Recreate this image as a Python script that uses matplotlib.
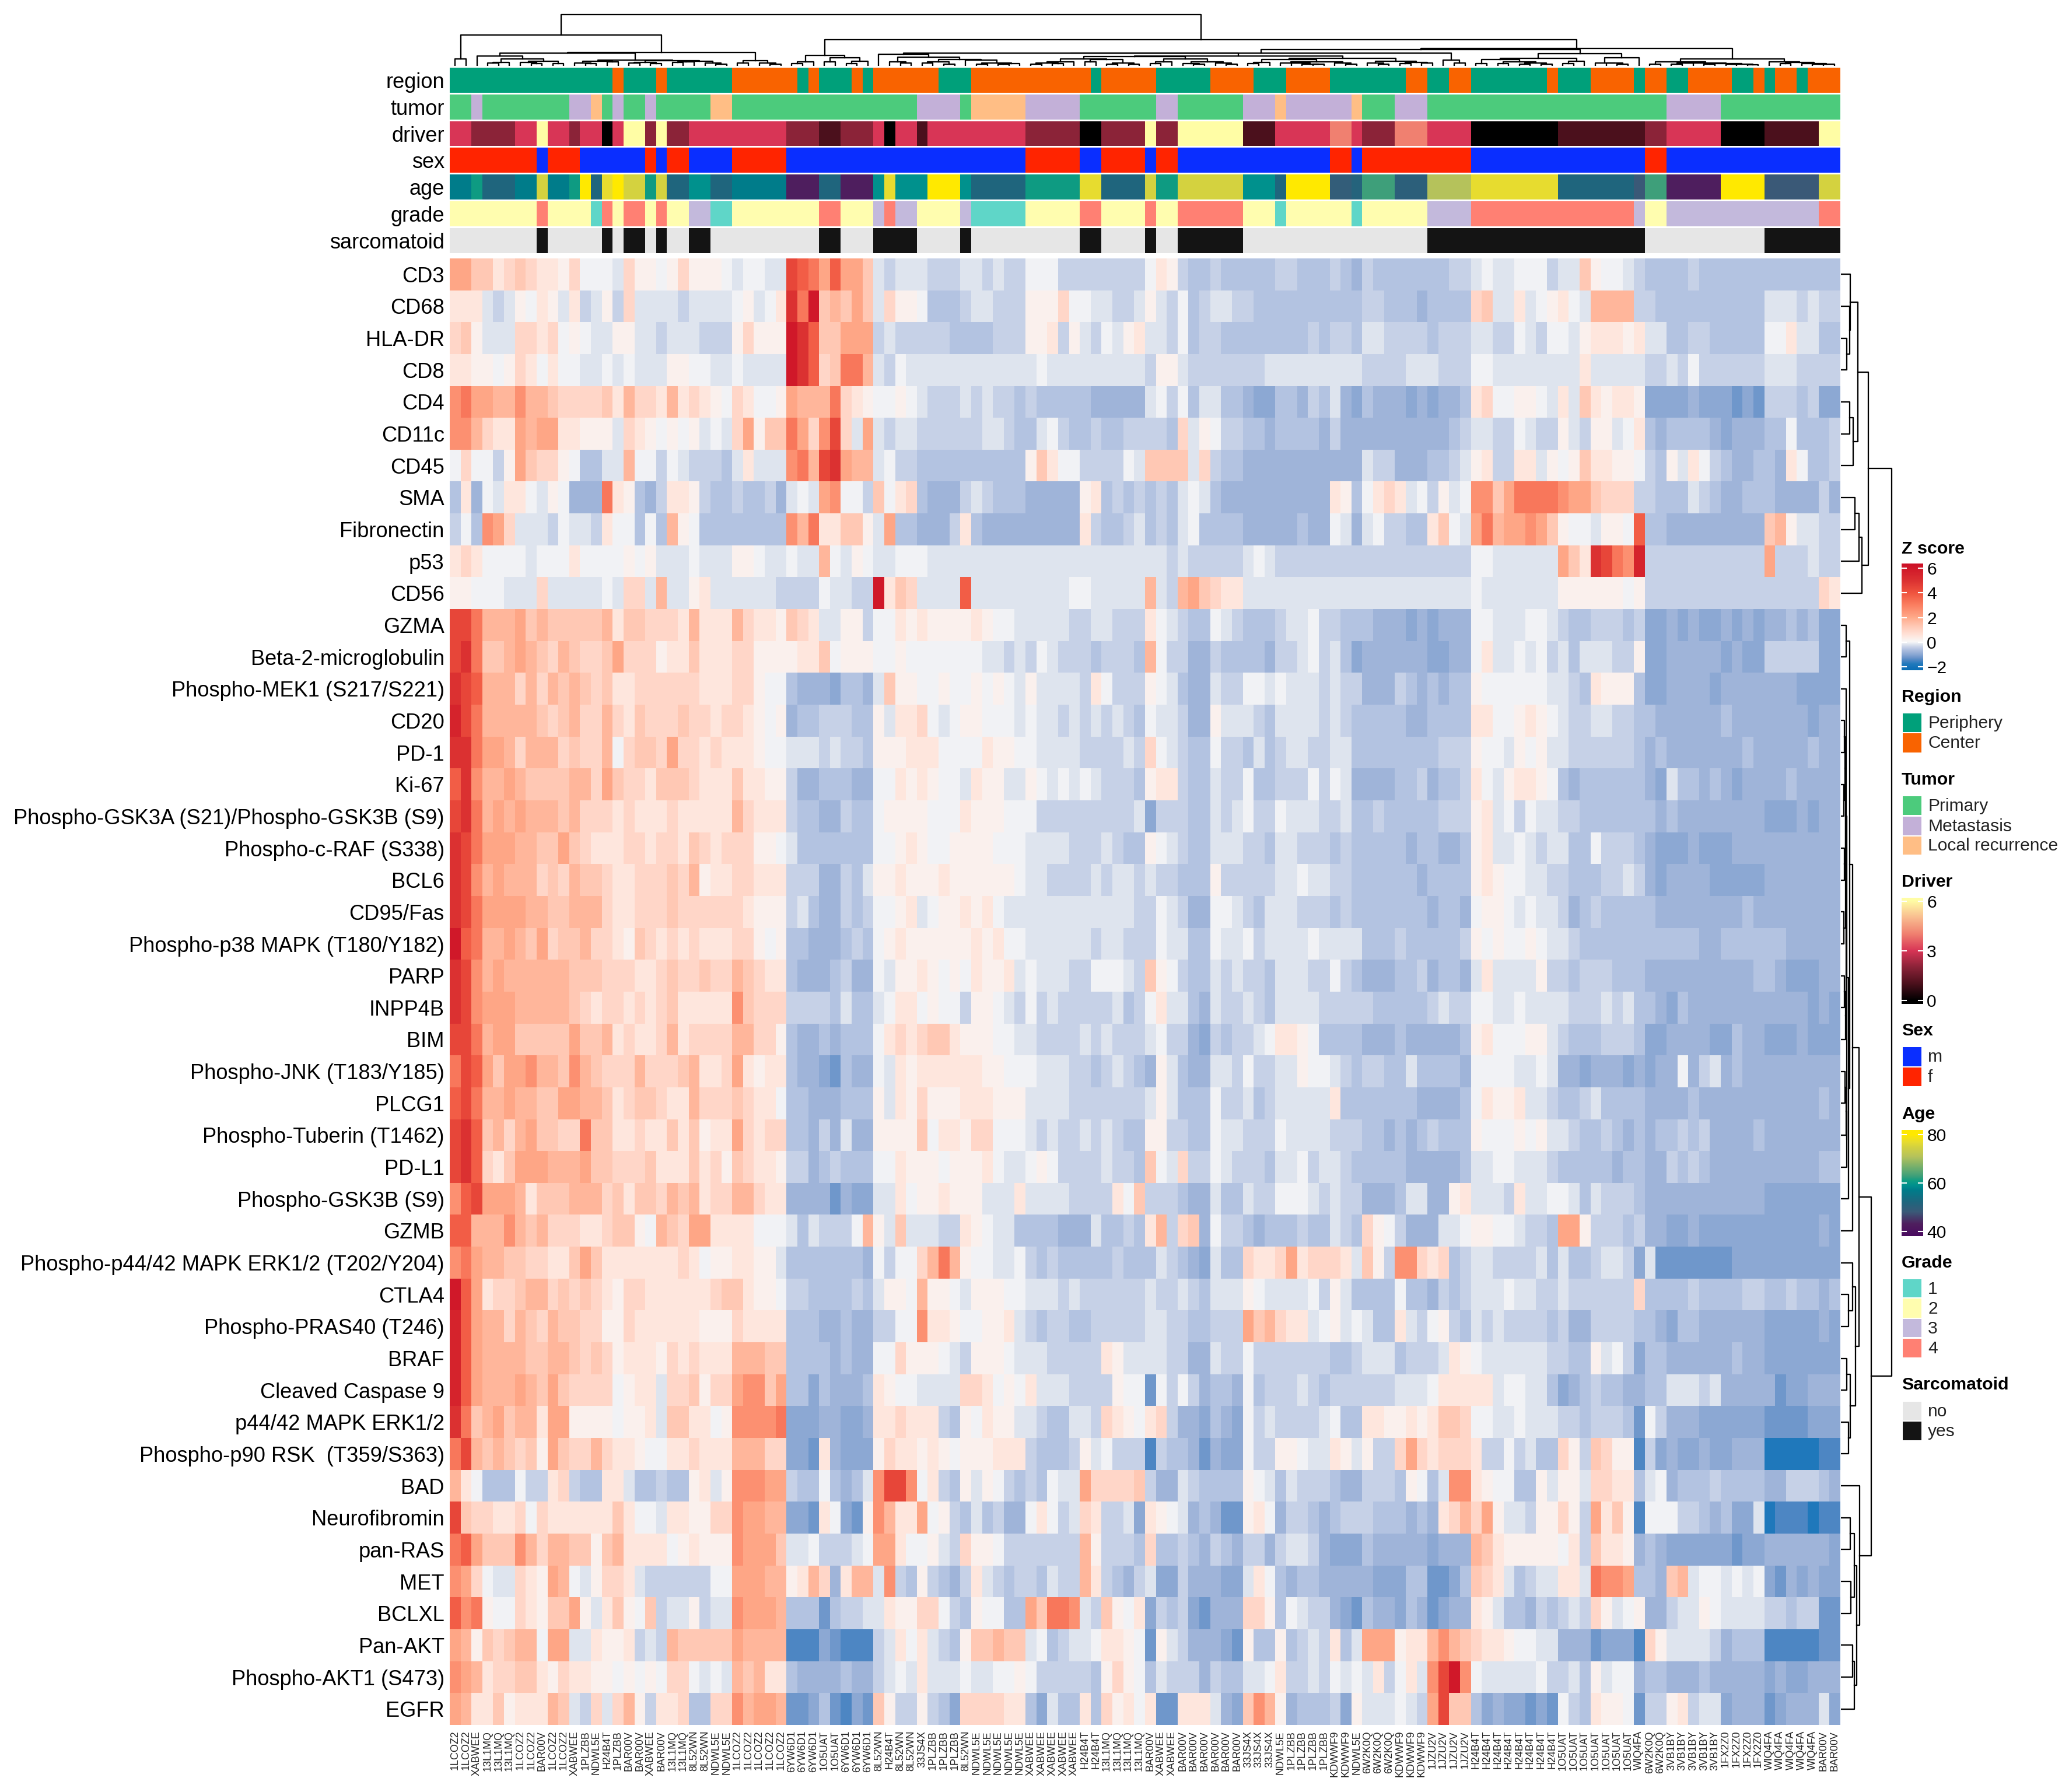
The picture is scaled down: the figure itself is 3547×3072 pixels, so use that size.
import numpy as np
import matplotlib
matplotlib.use("Agg")
import matplotlib.pyplot as plt
from matplotlib.collections import LineCollection
from matplotlib.colors import ListedColormap, LinearSegmentedColormap, Normalize
from matplotlib.patches import Rectangle

plt.rcParams['font.family'] = ['Liberation Sans', 'DejaVu Sans']

W, H = 3547, 3072

row_labels = ["CD3", "CD68", "HLA-DR", "CD8", "CD4", "CD11c", "CD45", "SMA", "Fibronectin", "p53", "CD56",
              "GZMA", "Beta-2-microglobulin", "Phospho-MEK1 (S217/S221)", "CD20", "PD-1", "Ki-67",
              "Phospho-GSK3A (S21)/Phospho-GSK3B (S9)", "Phospho-c-RAF (S338)", "BCL6", "CD95/Fas",
              "Phospho-p38 MAPK (T180/Y182)", "PARP", "INPP4B", "BIM", "Phospho-JNK (T183/Y185)", "PLCG1",
              "Phospho-Tuberin (T1462)", "PD-L1", "Phospho-GSK3B (S9)", "GZMB",
              "Phospho-p44/42 MAPK ERK1/2 (T202/Y204)", "CTLA4", "Phospho-PRAS40 (T246)", "BRAF",
              "Cleaved Caspase 9", "p44/42 MAPK ERK1/2", "Phospho-p90 RSK  (T359/S363)", "BAD", "Neurofibromin",
              "pan-RAS", "MET", "BCLXL", "Pan-AKT", "Phospho-AKT1 (S473)", "EGFR"]

sample_names = ["1LCOZ2"] * 2 + ["XABWEE"] + ["13L1MQ"] * 3 + ["1LCOZ2"] * 2 + ["BAR00V"] + ["1LCOZ2"] * 2 + \
    ["XABWEE", "1PLZBB", "NDWL5E", "H24B4T", "1PLZBB", "BAR00V", "BAR00V", "XABWEE", "BAR00V"] + ["13L1MQ"] * 2 + \
    ["8L52WN"] * 2 + ["NDWL5E"] * 2 + ["1LCOZ2"] * 5 + ["6YW6D1"] * 3 + ["1O5UAT"] * 2 + ["6YW6D1"] * 3 + \
    ["8L52WN", "H24B4T", "8L52WN", "8L52WN", "33JS4X"] + ["1PLZBB"] * 3 + ["8L52WN"] + ["NDWL5E"] * 5 + \
    ["XABWEE"] * 5 + ["H24B4T"] * 2 + ["13L1MQ"] * 4 + ["BAR00V"] + ["XABWEE"] * 2 + ["BAR00V"] * 6 + \
    ["33JS4X"] * 3 + ["NDWL5E"] + ["1PLZBB"] * 4 + ["KDWWF9"] * 2 + ["NDWL5E"] + ["6W2K0Q"] * 3 + ["KDWWF9"] * 3 + \
    ["1JZU2V"] * 4 + ["H24B4T"] * 8 + ["1O5UAT"] * 7 + ["WIQ4FA"] + ["6W2K0Q"] * 2 + ["3VB1BY"] * 5 + \
    ["1FX2Z0"] * 4 + ["WIQ4FA"] * 5 + ["BAR00V"] * 2

# annotation tracks, value + run length along the columns
region_values = [0, 1, 0, 1, 0, 1, 0, 1, 0, 1, 0, 1, 0, 1, 0, 1, 0, 1, 0, 1, 0, 1, 0, 1, 0, 1, 0, 1, 0, 1, 0, 1, 0, 1, 0, 1, 0, 1]
region_runs = [15, 1, 3, 1, 6, 6, 1, 1, 3, 1, 1, 6, 3, 11, 1, 5, 5, 4, 3, 4, 7, 2, 2, 2, 7, 1, 3, 4, 1, 2, 2, 4, 2, 1, 1, 2, 1, 3]

tumor_values = [0, 1, 0, 1, 2, 0, 1, 0, 1, 0, 2, 0, 1, 0, 2, 1, 0, 1, 0, 1, 2, 1, 2, 0, 1, 0, 1, 0]
tumor_runs = [2, 1, 8, 2, 1, 1, 1, 2, 1, 5, 2, 17, 4, 1, 5, 5, 7, 2, 6, 3, 1, 6, 1, 3, 3, 22, 5, 11]

driver_values = [3, 2, 3, 6, 3, 2, 3, 0, 3, 6, 2, 6, 2, 3, 2, 1, 2, 3, 0, 3, 1, 3, 2, 0, 2, 6, 2, 6, 1, 3, 4, 3, 2, 4, 3, 0, 1, 2, 3, 0, 1, 6]
driver_runs = [2, 4, 2, 1, 2, 1, 2, 1, 1, 2, 1, 1, 2, 9, 3, 2, 3, 1, 1, 2, 1, 9, 5, 2, 4, 1, 2, 6, 3, 5, 2, 1, 3, 3, 4, 8, 8, 2, 5, 4, 5, 2]

sex_values = [1, 0, 1, 0, 1, 0, 1, 0, 1, 0, 1, 0, 1, 0, 1, 0, 1, 0, 1, 0, 1, 0]
sex_runs = [8, 1, 3, 6, 1, 1, 2, 4, 5, 22, 5, 2, 4, 1, 2, 14, 2, 1, 10, 16, 2, 16]

age_values = [57, 61, 52, 57, 75, 57, 61, 80, 52, 77, 80, 75, 61, 75, 52, 59, 52, 57, 43, 52, 43, 59, 77, 59, 80, 59, 52,
              61, 77, 52, 75, 61, 75, 59, 52, 80, 49, 51, 63, 50, 71, 77, 52, 48, 63, 43, 80, 48, 75]
age_runs = [2, 1, 3, 2, 1, 2, 1, 1, 1, 1, 1, 2, 1, 1, 2, 2, 2, 5, 3, 2, 3, 1, 1, 3, 3, 1, 5,
            5, 2, 4, 1, 2, 6, 3, 1, 4, 2, 1, 3, 3, 4, 8, 7, 1, 2, 5, 4, 5, 2]

grade_values = [2, 4, 2, 1, 4, 2, 4, 2, 4, 2, 3, 1, 2, 4, 2, 3, 4, 3, 2, 3, 1, 2, 4, 2, 4, 2, 4, 2, 1, 2, 1, 2, 3, 4, 3, 2, 3, 4]
grade_runs = [8, 1, 4, 1, 1, 1, 2, 1, 1, 2, 2, 2, 8, 2, 3, 1, 1, 2, 4, 1, 5, 5, 2, 4, 1, 2, 6, 3, 1, 6, 1, 6, 4, 15, 1, 2, 14, 2]

sarcomatoid_values = [0, 1, 0, 1, 0, 1, 0, 1, 0, 1, 0, 1, 0, 1, 0, 1, 0, 1, 0, 1, 0, 1, 0, 1, 0, 1]
sarcomatoid_runs = [8, 1, 5, 1, 1, 2, 1, 1, 2, 2, 10, 2, 3, 4, 4, 1, 10, 2, 4, 1, 2, 6, 17, 20, 11, 7]

# z score per cell, one letter per cell, see zscore_levels
zscore_levels = dict(zip("abcdefghijklmnopqrstuv",
                         [-1.8, -1.5, -1.25, -1.0, -0.8, -0.6, -0.4, -0.2, -0.05, 0.2, 0.5, 0.9,
                          1.3, 1.7, 2.1, 2.6, 3.2, 3.8, 4.4, 5.0, 5.6, 6.0]))

zscore_rows = [
    "oommk lmlkk jliii hljji jljjj ihiih h srqoroom hghhh ggghh ghggi iiggg ggggg ik jgffg fffff ggfff gfegf fffff fgg hihhi iighh mjiih g ffffg fffff fffff fff",
    "kkkhg hjikj hkghj glhhh hghhh hijhi k tqvmnmom hljji fffgh hgggj jjlii hhggh jh gifgh hggff fffff fffgg fffef fff lmhhk hijki hnnnn g gffff fffff fhhhg hgg",
    "lmjhh hllkl ijihh jjhhg hhhgg gjljj j vtrmmooo ghggg ggfff fgggj jkgjh gihjk hh gifgg fffff fffgf ggfhh ggggf ggg hhggi hgiih jkkkj k hhffg gffff fiikh hff",
    "kkjji jlkik iihhi hihhh jjiih hihhh h vtrlmqqn hgihh hhhhh hhhhh ihhhh hhhhh gj jhggg ggggh hhhhh hhhgg gghhh ggg iihhh hhhhh khhhh h gghgi ggggg ghhhg ggg",
    "pqoon npnnm llllm knllk nklkj ilkii j onnnqlkj iijih ggghg hggfg fffff eeeee hi gifhh ffedd ffegf hedfe eeded eef kliij jihkh mkjkk j dddde dddcd cgggf gdd",
    "ppnlk konoo kkjjj hlkji jijhi hlojm m qolpslho hghhg ggggg hhgff higff gffgg gg flhji ggffe ffffe geeee eeeee efg hhggi hggjh gjjhi k feffff edeeeffifffg",
    "iliig jomll jiffh hniig ihggg fhkhh h pqnstonn higgf fffff ffff jmkii ggggi hmm mmhlg ffeee eeeee eeehg geeef fgh jkggk khjij mkkjj i gfjhk igfee ffeki ffg",
    "fkeih kkihj ieeeq kjfeg kkjgf fgffg e hihopiig miklf eeegh gfffe eeeej kfgfg fg fhihf eeeee eeeee kjfik lkhig jhi ppmoq qqqpo omlll g gfffh gfeef ffeee ege",
    "gifpo lhhhg ihhgk iifif njiff fffff f pnqkkmmj hoffe eegkf eeeee eeeek gffgh fg fhiff ffeee eefee ihehi ggffk mih oqnoo pomji ihjji r ffeee eeeee emnjh hgg",
    "klkii iihii ikiii ijijh hhihh hjjih h ihhnihji hhiii hhhhh hhhhh hhhhh hhhhh hh ghggg gghih ggggg ggggg ggggg ggg iihhh hhhom ktsqp u ggggg ggggg gogg ghgg",
    "jjiii hhhlh hhhhi hllhn hhjkh hhhhh g gggihhgg vkmlh hhhrh hhhhh hhhii hhhhh nh gnoml kkhhh hhhhh hhhhh hhhhh hhh ihhhh hhhjj jjjji j ggggg ggggg ggggg glk",
    "ssqnn nomnm mmmmn kmmll lknkk knlkk j mlkhhjjg iikjk jjjjk jiihh hhhgg hhggg ki hgffi hgfff ghhig gfffe eeded eee iihhh iihgf fgggf g ddede ddede deefe fdd",
    "stqmm nonml nmllm ollljkkmkk klljj j jkkmijjj iijii iiiii hhghg ihggg fgggf ni ggeeg ffffe gghig hfdee eeeed dee ikhhi highf hhhgg j ddeee eeded dgggg gdd",
    "tsrnn nlnln mnmlm kklll lllkk kllji i feeedffe hmjji ijiij ijihj hhhhg kiggg ji hfeeh ggiih ihhhg hggee egfef eff jiiii iihhg fkjjj f ddeee edeee eeeed ddd",
    "usqnn nnnml mnlln lkmll lmllk llkji j effgggff jhkkl ihijj iiihi hhghg hghgf ih hgeej hhhgf hhhhg hgfff ffeef fff kkiij kjihg ghhgg f feeee eefee eeeee dee",
    "ttqoo nlnnn lmlln ilmml ollkl kkkji i hhhghggf jjjkk kiiii kjjii hhhhg ggghg li hgffi ggfhf ghhgg hhfff fffff ggg jiihj ijhhg ggggg f efeee eeeef eeeee fee",
    "rtpnn onmmm mnnlo mllkm mmlkk kmkkj j geefffee iikjk jiihk jjhhj ihihi hgggf jk kgffh ggiff gggig iheee effge ffg kihjk kjife fffff f edhff efede eeefe eee",
    "stqno nonnn mnlll klkkk lkkkk knlkk k gffeegff ijjjj iiikj jjiii ggggg ggggh dg ggffh ghigg ihhhg ghffg fffff ggg jkhig ihhgg fffff f fefee eeeee edddedee",
    "tsqoo onnmm omlkk kllkl lkmlk llljj i hfffffff iijkj iijjj jiiih hhhgg ghgff ji hgffh hhggf hhggg fgfff ffeff eef jkhhi hghhf figgg f edddeddd eeeee eeeee",
    "tspno nnnlm lnmml kklll mlnjk kllkk k gggeegfh jjkjj jkjjj jjjih hgggg hghhg hg gfffj ggggg hhihh ggfff fffef fff jkjii hhggf ffggh g edeee edddd deeee eee",
    "tsqoo oonnm mnnnl kklll mllll llkjj j ghfeegfg iijkh ijjkj kihhh hhhhh hhhhg gi hgeei ihgfh hhggg fgfff ffffe ffe ijjih ihhge fgfff f feeee eeeef eeeee eee",
    "vrqnn onmol mmnll kjmlk lklkk kllji j ffeeefgf ijkjj jjjjk jkiih hhhhh ghhgg gi hhffi hhigh hhhih hhhff fgfff ffg jijii jihhg fffff f fffff eefff fffee eee",
    "tspno nnnnn nmmml llkkl mllml lnmlk k feeefgee ihjjk jijik jjkhi hhhgg iiihg mj igffh ghggf hhhgg igfee effge ffe hkhhh hjggf gggff f eeeee eeeee ffedd dee",
    "tspoo onnnn nmlkl lklkl mkkkk kpmll l ggggfhff hikki jiigj jihgi ghggg gghfg ik hhfeh gghgf hhhhg ggggf ffffg hgg iihhi hhhhg gghgh f fedfe eeeee eeeee ded",
    "ssqno ommmm mommn klkkl nklll lnnll j feefefff iklkl mmkjj jiihh ggggh ghggg hi ggedg fgghi kkjif fffee efeee eef jkiii jjhgf ffggg f ddeee eddfe edddeddd",
    "qsrom oopnn mpnml llnll lmnkk lokjk k feedcfee ihkjk kkkkk jjiii hhhgg fghgf ej hfeeh hgigg hhjii hgfgg ffhff ffe iiiih hihee deeed e deeie ghefe eeeee eee",
    "rsqnn onnmm oonnm klmml kknll lmlkk i ffeeefff jhkjl jjjkk kjjjh hhhgg ggggg hj hfffi gghfg hhhhh kffff fffee eef ikjjk hhgff ghfff f eeeef eeeee eeeee efe",
    "strmn lnomm llqmm kklkk mkmjk kolkl l ffegehee jjjjm ikkjl liiih ghggh ghgff jj ggffi hhggg ihhhh gggff efefg fff jiiij ijhhg ffgfe f effgf geeee feeee eee",
    "strlk mooon nnomm lllmk kkmkl jmlkk j ggefgfff iikjj jijjj kihhi jiggg ghggf mi hlggi hgggf hhigh hgfff ffeee eef hhiih hhgff fffef f eegfg feeee eeeee eff",
    "prsoo onkmm mnnnl mkmml nmnkl lnnlk k eeeecedd hhkij jkjjj hhhkh hhhgg ggkim gg gfeeh ffhgg iiihg hggee efhhe ejk hhhgk hhiih fhggg f eeeee eeeee edddd ddd",
    "rrnnn pnmnl llkkl mmjin mlook kkkii i hfhgggin jhmhh hggkj ihhff ffeee hffgf kn glmei ggfef ffgff hgflj igeee hhi jjiih ggfoo jgggf g eedde ddddd ddddd ded",
    "pqonn mmllk kmomk kkkkk klkij jkkjj h fffffffe igiil nqnji ihhig fgfff ffgff fh gfedh fflkk lokll lkhmj gpplk lfg hhggg ghfhf fghhg d hcccc cccdd ddddd ddd",
    "vrokl lmnnl mlmlk jllkk kkkkl mmkjj i ggffffgf hjjin jjihj jjiih hhghg ggggg hg ghgfh hhjih hhhig jhfff fiffe gfg hhhih hgghg ggggg l ffffg ffffg gffgf fef",
    "uronn lnmln mmllj jlkkk kkkjj jlkkk k fffeefee ggiip kkjii jjkhg fggff ggggg hh ggffg ggomn lkkhi jhihf fkhgi jgf hghgg ggfge egggg f fedff eeeee edddd ded",
    "uronn nnmmn nmlml jkkkj lklkk knnnm m ffffefee iiljj jihgj jjihh hgggg gkjhh hh ggeeh ggigg ggggg ffghh hfggg hkj ihhhh hhggf fjhig d ffeee eeefe edddd ddd",
    "uronn nonmo mllll ijkkh llmjl loppm o ffdfeeef kjiih hhhll kijik hhhgg ggjii ci gigef feifg gghgf ggggg ghhhi kkk kkhii hhfde fgffe e ffhhh gheee eecdd eee",
    "tqmno mnnko ojjjj ijjkh mmkki jpppp q dddeedde kklkk kgfji kjjhh gffhh glkji kl geedf edigh ggggh iffkk jjkjk mml iihhi hhhgg fgggf c igeee ddddd dcccc ddd",
    "qsnmn mlmjo mllnl kkjii kklkk knnnl l ddckeddd jlkkj kjijj jkkkg fffgj higgg bg ffece ddigg jjihh kjhjg glolk lll kggig hfflj gmljj b gdedd eddee eaaaa abb",
    "nkiff figgk lgffk khffg ffjkh jpppo o gffifefh psspi kgfjh jigfg fihho llllm ge ehgff ffjih fhggg feegg gfjif hpp kjiif fjhjj hllkk f hiefff gffff eeggg fe",
    "smllk klilk kkkkk mkiih kkjjl lpoon n ddckidcj pnkko ijgfh fgeei kighl kgghd kj ihefe ccjki eggfe fgggf ffefe kln lojhh gjjlj gokmj b iiigg fefdd habbb abb",
    "qromm mpnln nmmjm nkkkk ijkjj jpooo m hhiggghi ookii jhglj jiggg ggggn jgggf lf fgfeg fegge ghhge dddfe eeeed eee nmkjj jjjik gmkkj e feddd dddcd deeee eed",
    "polih hlkjo nihjl lkhgg ggggi iooon n jknleknn hpgfj gfegk hgfgg fhggn kgfeg hd dgeee ddhki feffe eeeed ddffc cdf mlkhf ghhkk hqppo f femnh iihih idced edd",
    "rpqji ilkjm mojhk mjimg hhjgh hpooo n fffcfggh hkjjl ligfj iiffo mqqph gmjik dg fgdce eellj fihgg edcfe edfec dee kjhff egfgh gljhi j eeghh jihhh hggfg gcc",
    "onjml mnnio ohhkj jkghg nmmmm monnn n bbbdcbbb ghkik hgfjm mnmmh ifghh ikkji cj hgeee dcjff jfghg kfhoo ojkkn pnm lkkji ihhee ecddd b ljhhh hgeff fbbbb bcc",
    "ponkl lmmkj lkkjj ijiji llihi hnmnk k feeeefee ghihk hhhih hiiji ggggg fjlji fh gggeg ffhhi kgghg ihihk gikhp svp ihhhh higgh fjhii e ffeee feeee ededd eee",
    "onkkm jkkkn mhglh lnjgk klffl lpnoo n ccdfcbdc mjggj gfdll llkkf dhffk fljki kc ckkkh edmpn jefff gdjhh hihgo smm fdedd cdcig fkjji c ggjkg hhdee ecdee ehd",
]

# merge height between neighbouring leaves, the tree is rebuilt from these
col_merge_heights = [36, 158, 50, 14, 18, 35, 18, 12, 24, 12, 66, 14, 12, 24, 22, 30, 14, 17, 12, 28, 18, 20, 24, 16, 8, 70,
                     14, 26, 16, 10, 263, 12, 22, 55, 22, 42, 12, 24, 135, 60, 22, 14, 46, 14, 20, 10, 34, 30, 10, 16, 8, 12,
                     65, 10, 14, 12, 22, 36, 22, 32, 10, 16, 10, 48, 12, 20, 36, 12, 8, 22, 14, 8, 50, 12, 18, 33, 16, 14, 10,
                     8, 22, 16, 10, 38, 14, 10, 24, 12, 18, 14, 66, 30, 16, 85, 13, 33, 12, 22, 8, 14, 8, 40, 12, 24, 64, 16,
                     14, 10, 43, 91, 8, 20, 10, 14, 16, 10, 12, 8, 10, 6, 36, 22, 12, 18, 12, 8, 10]
row_merge_heights = [49, 45, 29, 87, 44, 64, 140, 72, 94, 107, 262, 27, 44, 28, 18, 22, 16, 24, 18, 25, 14, 28, 17, 24, 30, 20,
                     27, 30, 38, 60, 92, 60, 40, 74, 30, 47, 40, 157, 95, 49, 70, 50, 80, 61, 70]

z_colors = [(-2.3, "#0a6db5"), (-1.8, "#2079bc"), (-1.5, "#4d86c3"), (-1.25, "#7198cc"), (-1, "#8da9d4"), (-0.8, "#a0b5da"),
            (-0.6, "#b3c3e1"), (-0.4, "#c8d2e8"), (-0.2, "#dfe5ef"), (0, "#f8f8f8"),
            (0.5, "#ffe6dd"), (1.3, "#ffc8b4"), (2, "#ffaa8a"), (3, "#fb8062"), (4, "#f0553f"), (5, "#dc3232"), (6.4, "#cc0f26")]
driver_colors = [(-0.2, "#000000"), (0, "#000000"), (1, "#4b101c"), (2, "#8b2338"), (3, "#d83556"), (4, "#f08070"),
                 (5, "#f9bd90"), (6, "#fffda5"), (6.2, "#fffda5")]
age_colors = [(38, "#4a0a60"), (43, "#4f1f5e"), (48, "#3a5a78"), (52, "#1f667e"), (57, "#007c8a"), (59, "#00918e"),
              (61, "#0f9c82"), (63, "#3fa07a"), (71, "#b5c25c"), (75, "#d4d240"), (77, "#e7dc30"), (80, "#ffe900"), (82, "#ffe900")]
region_colors = ["#00a07a", "#f96300"]
tumor_colors = ["#4ccb7c", "#c3b0d8", "#ffbe85"]
sex_colors = ["#0a2eff", "#ff2400"]
grade_colors = ["#5fd6c8", "#fffdaf", "#c3b9dc", "#ff8073"]
sarcomatoid_colors = ["#e6e6e6", "#141414"]


def make_cmap(stops):
    lo, hi = stops[0][0], stops[-1][0]
    cmap = LinearSegmentedColormap.from_list("c", [((v - lo) / (hi - lo), c) for v, c in stops], N=512)
    return cmap, Normalize(lo, hi)


def axes_px(fig, x0, y0, x1, y1):
    return fig.add_axes([x0 / W, 1 - y1 / H, (x1 - x0) / W, (y1 - y0) / H])


def tree_segments(gaps, lo, hi, segs):
    # returns leaf position and height of the node covering leaves lo..hi
    if lo == hi:
        return lo + 0.5, 0
    k = lo + int(np.argmax(gaps[lo:hi]))
    h = gaps[k]
    p1, h1 = tree_segments(gaps, lo, k, segs)
    p2, h2 = tree_segments(gaps, k + 1, hi, segs)
    segs.append([(p1, h1), (p1, h), (p2, h), (p2, h2)])
    return (p1 + p2) / 2, h


def draw_colorbar(x0, y0, x1, y1, cmap, norm, ticks):
    ax = axes_px(fig, x0, y0, x1, y1)
    grad = np.linspace(norm.vmax, norm.vmin, 256).reshape(-1, 1)
    ax.imshow(grad, cmap=cmap, norm=norm, aspect="auto", extent=(0, 1, norm.vmin, norm.vmax))
    for t in ticks:
        ax.plot([0, 0.22], [t, t], color="white", lw=0.5)
        ax.plot([0.78, 1], [t, t], color="white", lw=0.5)
    ax.set_xlim(0, 1)
    ax.set_ylim(norm.vmin, norm.vmax)
    ax.set_xticks([])
    ax.set_yticks(ticks)
    ax.set_yticklabels([str(t).replace("-", "\u2212") for t in ticks], fontsize=7.2)
    ax.yaxis.tick_right()
    ax.tick_params(axis="y", length=0, pad=1.5)
    for s in ax.spines.values():
        s.set_visible(False)


fig = plt.figure(figsize=(W / 300, H / 300), dpi=300)

# heatmap
rows = [r.replace(" ", "") for r in zscore_rows]
zscores = np.array([[zscore_levels[c] for c in r] for r in rows])
z_cmap, z_norm = make_cmap(z_colors)
ax = axes_px(fig, 771, 443, 3154, 2957)
ax.imshow(zscores, cmap=z_cmap, norm=z_norm, aspect="auto", interpolation="nearest", extent=(0, 128, 46, 0))
ax.set_yticks(np.arange(46) + 0.5)
ax.set_yticklabels(row_labels, fontsize=8.7)
ax.set_xticks(np.arange(128) + 0.5)
ax.set_xticklabels(sample_names, fontsize=4.3, rotation=90, color="#222222")
ax.tick_params(axis="both", length=0)
ax.tick_params(axis="y", pad=2.2)
ax.tick_params(axis="x", pad=2.4)
for s in ax.spines.values():
    s.set_visible(False)

# annotation tracks
driver_cmap, driver_norm = make_cmap(driver_colors)
age_cmap, age_norm = make_cmap(age_colors)
tracks = [
    ("region", np.repeat(region_values, region_runs), ListedColormap(region_colors), Normalize(-0.5, 1.5)),
    ("tumor", np.repeat(tumor_values, tumor_runs), ListedColormap(tumor_colors), Normalize(-0.5, 2.5)),
    ("driver", np.repeat(driver_values, driver_runs), driver_cmap, driver_norm),
    ("sex", np.repeat(sex_values, sex_runs), ListedColormap(sex_colors), Normalize(-0.5, 1.5)),
    ("age", np.repeat(age_values, age_runs), age_cmap, age_norm),
    ("grade", np.repeat(grade_values, grade_runs), ListedColormap(grade_colors), Normalize(0.5, 4.5)),
    ("sarcomatoid", np.repeat(sarcomatoid_values, sarcomatoid_runs), ListedColormap(sarcomatoid_colors), Normalize(-0.5, 1.5)),
]
for i, (name, values, cmap, norm) in enumerate(tracks):
    top = 116 + i * 45.83
    tax = axes_px(fig, 771, top, 3154, top + 42.7)
    tax.imshow(values.reshape(1, -1), cmap=cmap, norm=norm, aspect="auto", interpolation="nearest", extent=(0, 128, 1, 0))
    tax.set_xticks([])
    tax.set_yticks([0.5])
    tax.set_yticklabels([name], fontsize=8.7)
    tax.tick_params(axis="y", length=0, pad=2.2)
    for s in tax.spines.values():
        s.set_visible(False)

# dendrograms
segs = []
tree_segments(col_merge_heights, 0, 127, segs)
dax = axes_px(fig, 771, 20, 3154, 113)
dax.add_collection(LineCollection(segs, colors="black", linewidths=0.55, capstyle="projecting"))
dax.set_xlim(0, 128)
dax.set_ylim(0, 93 * 3)
dax.axis("off")

segs = []
tree_segments(row_merge_heights, 0, 45, segs)
segs = [[(h, p) for p, h in s] for s in segs]
dax = axes_px(fig, 3156, 443, 3250, 2957)
dax.add_collection(LineCollection(segs, colors="black", linewidths=0.55, capstyle="projecting"))
dax.set_xlim(0, 94 * 3)
dax.set_ylim(46, 0)
dax.axis("off")

# legends, laid out in pixels of the figure
lax = fig.add_axes([0, 0, 1, 1], zorder=-1)
lax.set_xlim(0, W)
lax.set_ylim(H, 0)
lax.axis("off")


def legend_block(title, title_y, entries):
    lax.text(3260, title_y, title, fontsize=7.3, fontweight="bold", va="center", ha="left")
    for label, color, y0, y1 in entries:
        lax.add_patch(Rectangle((3262, y0), 32, y1 - y0, facecolor=color, edgecolor="none"))
        lax.text(3305, (y0 + y1) / 2 + 1, label, fontsize=7.2, va="center", ha="left", color="#222222")


lax.text(3260, 941, "Z score", fontsize=7.3, fontweight="bold", va="center", ha="left")
draw_colorbar(3260, 966, 3297, 1149, z_cmap, z_norm, [-2, 0, 2, 4, 6])
legend_block("Region", 1195, [("Periphery", region_colors[0], 1223, 1255), ("Center", region_colors[1], 1257, 1290)])
legend_block("Tumor", 1337, [("Primary", tumor_colors[0], 1365, 1397), ("Metastasis", tumor_colors[1], 1400, 1432),
                             ("Local recurrence", tumor_colors[2], 1434, 1465)])
lax.text(3260, 1512, "Driver", fontsize=7.3, fontweight="bold", va="center", ha="left")
draw_colorbar(3260, 1539, 3297, 1721, driver_cmap, driver_norm, [0, 3, 6])
legend_block("Sex", 1767, [("m", sex_colors[0], 1795, 1828), ("f", sex_colors[1], 1830, 1862)])
lax.text(3260, 1910, "Age", fontsize=7.3, fontweight="bold", va="center", ha="left")
draw_colorbar(3260, 1937, 3297, 2119, age_cmap, age_norm, [40, 60, 80])
legend_block("Grade", 2165, [("1", grade_colors[0], 2193, 2224), ("2", grade_colors[1], 2226, 2259),
                             ("3", grade_colors[2], 2261, 2292), ("4", grade_colors[3], 2295, 2327)])
legend_block("Sarcomatoid", 2374, [("no", sarcomatoid_colors[0], 2403, 2435), ("yes", sarcomatoid_colors[1], 2437, 2469)])

fig.savefig("out.png", dpi=300)
